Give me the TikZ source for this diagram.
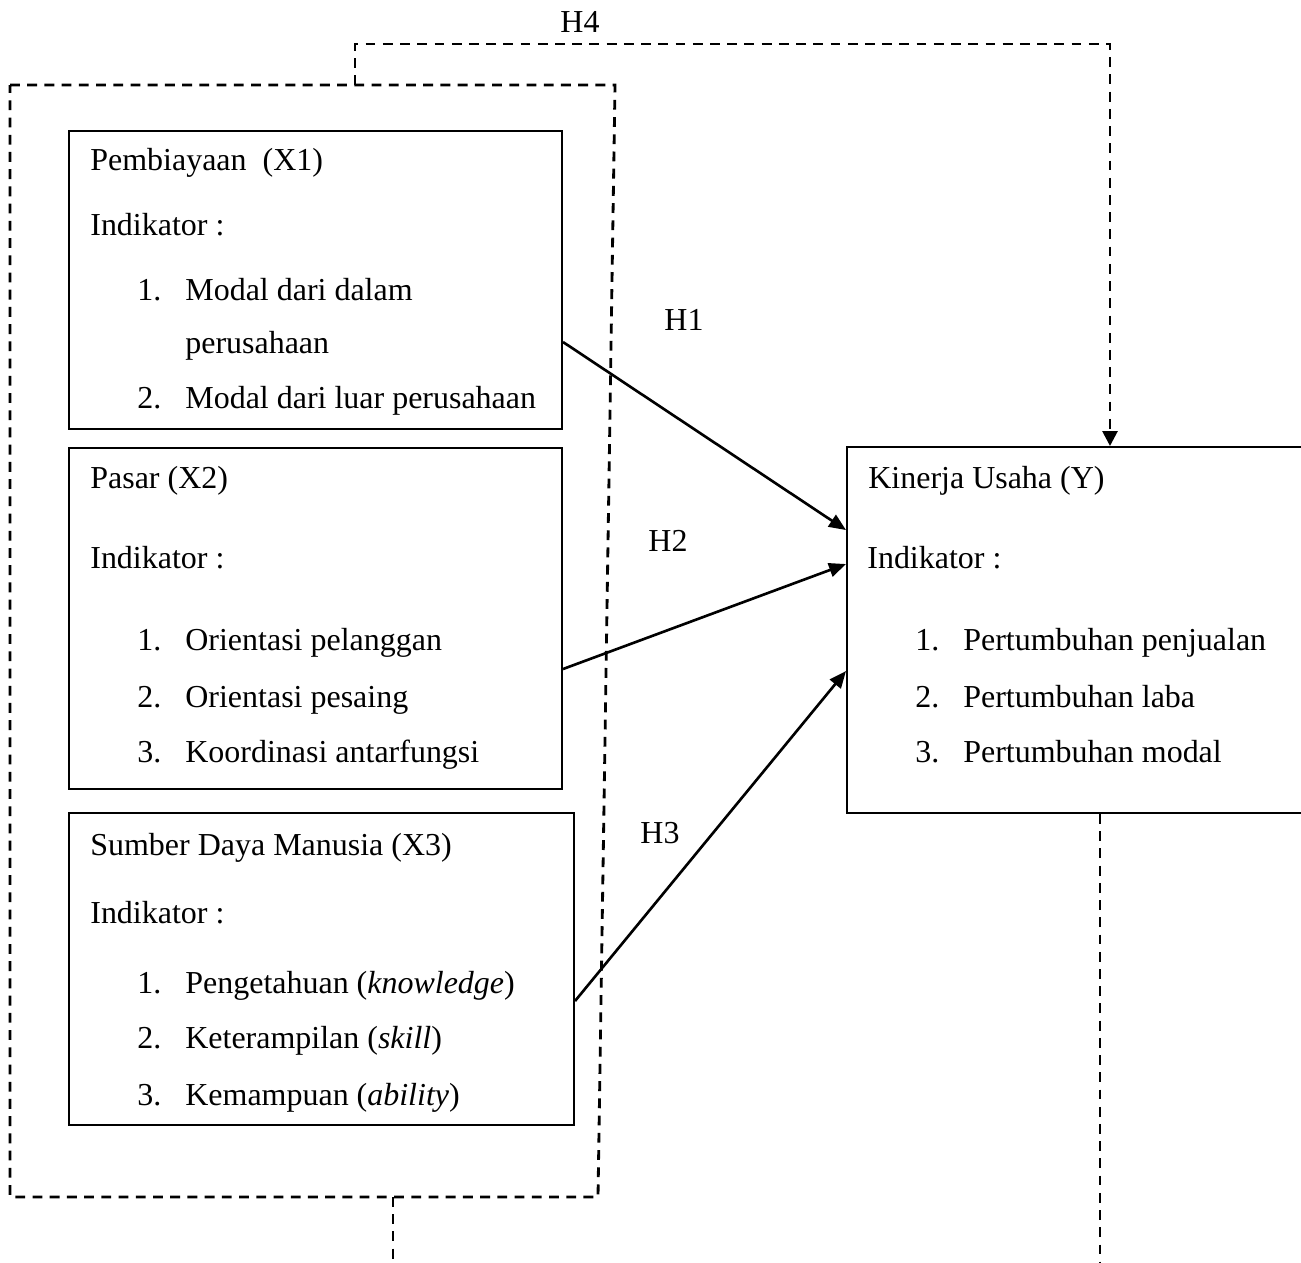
\documentclass[tikz,border=0pt]{standalone}
\usepackage{fontspec}
\setmainfont{Liberation Serif}
\usepackage{tikz}
\usetikzlibrary{arrows.meta}

\begin{document}
\begin{tikzpicture}[x=0.02cm,y=-0.02cm,
    txt/.style={anchor=west,inner sep=0pt,yshift=-0.12cm,font=\fontsize{18.2}{22}\selectfont,text height=0.7em,text depth=0.2em},
    lbl/.style={txt,anchor=center},
    box/.style={draw,line width=1.2pt,anchor=north west,inner sep=0pt},
    grp/.style={line width=1.6pt,dash pattern=on 5.6pt off 4.2pt},
    hyp/.style={line width=1.5pt,-{Triangle[length=0.34cm,width=0.28cm]}}]
\clip (0,0) rectangle (1301,1262);

% variable boxes
\node [box,minimum width=9.86cm,minimum height=5.96cm] (pemb) at (68,130) {};
\node [box,minimum width=9.86cm,minimum height=6.82cm] (pasar) at (68,447) {};
\node [box,minimum width=10.1cm,minimum height=6.24cm] (sdm) at (68,812) {};
\node [box,minimum width=9.8cm,minimum height=7.32cm] (kinerja) at (846,446) {};

% X1
\node [txt] (p0) at (90,160) {Pembiayaan~ (X1)};
\node [txt] (p1) at (90,225) {Indikator :};
\node [txt] (p2n) at (137,290) {1.};
\node [txt] (p2) at (185,290) {Modal dari dalam};
\node [txt] (p2b) at (185,343) {perusahaan};
\node [txt] (p3n) at (137,398) {2.};
\node [txt] (p3) at (185,398) {Modal dari luar perusahaan};

% X2
\node [txt] (q0) at (90,478) {Pasar (X2)};
\node [txt] (q1) at (90,558) {Indikator :};
\node [txt] (q2n) at (137,640) {1.};
\node [txt] (q2) at (185,640) {Orientasi pelanggan};
\node [txt] (q3n) at (137,697) {2.};
\node [txt] (q3) at (185,697) {Orientasi pesaing};
\node [txt] (q4n) at (137,752) {3.};
\node [txt] (q4) at (185,752) {Koordinasi antarfungsi};

% X3
\node [txt] (s0) at (90,845) {Sumber Daya Manusia (X3)};
\node [txt] (s1) at (90,913) {Indikator :};
\node [txt] (s2n) at (137,983) {1.};
\node [txt] (s2) at (185,983) {Pengetahuan (\textit{knowledge})};
\node [txt] (s3n) at (137,1038) {2.};
\node [txt] (s3) at (185,1038) {Keterampilan (\textit{skill})};
\node [txt] (s4n) at (137,1095) {3.};
\node [txt] (s4) at (185,1095) {Kemampuan (\textit{ability})};

% Y
\node [txt] (k0) at (868,478) {Kinerja Usaha (Y)};
\node [txt] (k1) at (867,558) {Indikator :};
\node [txt] (k2n) at (915,640) {1.};
\node [txt] (k2) at (963,640) {Pertumbuhan penjualan};
\node [txt] (k3n) at (915,697) {2.};
\node [txt] (k3) at (963,697) {Pertumbuhan laba};
\node [txt] (k4n) at (915,752) {3.};
\node [txt] (k4) at (963,752) {Pertumbuhan modal};

% hypotheses
\draw [hyp] ([yshift=-1.24cm]pemb.east) -- ([yshift=2cm]kinerja.west);
\draw [hyp] ([yshift=-1.01cm]pasar.east) -- ([yshift=1.32cm]kinerja.west);
\draw [hyp] ([yshift=-0.64cm]sdm.east) -- ([yshift=-0.82cm]kinerja.west);
\node [lbl] (h1) at (684,320) {H1};
\node [lbl] (h2) at (668,541) {H2};
\node [lbl] (h3) at (660,833) {H3};
\node [lbl] (h4) at (580,22) {H4};

% simultaneous group
\draw [grp] (10,85) -- (615,85) -- (598,1197) -- (10,1197) -- cycle;
\coordinate (gtop) at (355,85);
\coordinate (gbot) at (393,1197);
\coordinate (h4c) at (1110,44);
\coordinate (gstub) at (393,1275);
\coordinate (kstub) at (1100,1275);
\draw [grp,-{Triangle[length=0.3cm,width=0.3cm]}] (gtop) |- (h4c) -- (h4c |- kinerja.north);
\draw [grp] (gbot) -- (gstub);
\draw [grp] (kstub |- kinerja.south) -- (kstub);

\end{tikzpicture}
\end{document}
